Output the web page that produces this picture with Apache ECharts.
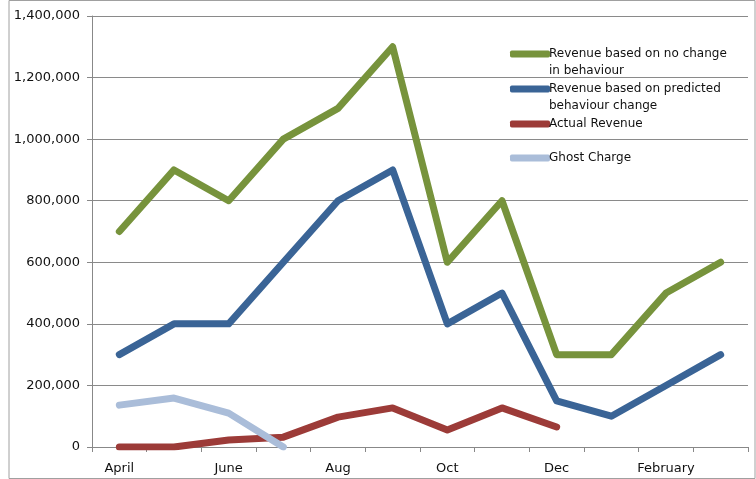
<!DOCTYPE html>
<html>
<head>
<meta charset="utf-8">
<script src="https://cdn.jsdelivr.net/npm/echarts@6/dist/echarts.min.js"></script>
<style>
  html, body { margin: 0; padding: 0; background: #fff; }
  #chart { width: 756px; height: 479px; }
</style>
</head>
<body>
<div id="chart"></div>
<script>
var months = ['April', 'May', 'June', 'July', 'Aug', 'Sep', 'Oct', 'Nov', 'Dec', 'Jan', 'February', 'March']
var noChange = [700000, 900000, 800000, 1000000, 1100000, 1300000, 600000, 800000, 300000, 300000, 500000, 600000]
var predicted = [300000, 400000, 400000, 600000, 800000, 900000, 400000, 500000, 150000, 100000, 200000, 300000]
var actual = [0, 0, 23000, 32000, 97000, 127000, 55000, 127000, 65000, null, null, null]
var ghost = [136000, 159000, 110000, 0, null, null, null, null, null, null, null, null]

// legend labels: first line goes in the legend, second line is placed under it
var names = ['Revenue based on no change', 'Revenue based on predicted', 'Actual Revenue', 'Ghost Charge']
var secondLines = ['in behaviour', 'behaviour change', '', '']
var colors = ['#77933c', '#3a6496', '#9c3b38', '#aabdd9']
var legendMid = [54, 89, 124, 158]

var font = 'DejaVu Sans'
var chart = echarts.init(document.getElementById('chart'))

var legends = names.map(function(n, i) {
  return {
    data: [n],
    left: 505,
    top: legendMid[i] - 13,
    padding: 5,
    itemWidth: 40,
    itemHeight: 7,
    icon: 'roundRect',
    selectedMode: false,
    textStyle: { fontFamily: font, fontSize: 12, color: '#111', lineHeight: 16, padding: [0, 0, 0, -6] }
  }
})

var extraText = []
secondLines.forEach(function(t, i) {
  if (!t) return
  extraText.push({
    type: 'text',
    left: 549,
    top: legendMid[i] + 11,
    style: { text: t, fontFamily: font, fontSize: 12, fill: '#111' }
  })
})

function makeSeries(data, i) {
  return {
    name: names[i],
    type: 'line',
    data: data,
    symbol: 'none',
    lineStyle: { width: 7, color: colors[i], cap: 'round', join: 'round' },
    itemStyle: { color: colors[i] }
  }
}

chart.setOption({
  animation: false,
  legend: legends,
  grid: { left: 92, right: 8, top: 16, bottom: 32 },
  graphic: [{
    type: 'rect',
    shape: { x: 9, y: 0.5, width: 746, height: 478 },
    style: { fill: 'none', stroke: '#a0a0a0', lineWidth: 1 }
  }].concat(extraText),
  xAxis: {
    type: 'category',
    data: months,
    boundaryGap: true,
    axisLine: { lineStyle: { color: '#888', width: 1 } },
    axisTick: { show: true, interval: 0, length: 5, lineStyle: { color: '#888' } },
    axisLabel: { interval: 1, color: '#111', fontFamily: font, fontSize: 13, margin: 15 },
    splitLine: { show: false }
  },
  yAxis: {
    type: 'value',
    min: 0,
    max: 1400000,
    interval: 200000,
    axisLine: { show: true, lineStyle: { color: '#888', width: 1 } },
    axisTick: { show: true, length: 5, lineStyle: { color: '#888' } },
    axisLabel: {
      color: '#111',
      fontFamily: font,
      fontSize: 13,
      margin: 12,
      formatter: function(v) { return v.toLocaleString('en-US') }
    },
    splitLine: { lineStyle: { color: '#8a8a8a', width: 1 } }
  },
  series: [
    makeSeries(noChange, 0),
    makeSeries(predicted, 1),
    makeSeries(actual, 2),
    makeSeries(ghost, 3)
  ]
})
</script>
</body>
</html>
